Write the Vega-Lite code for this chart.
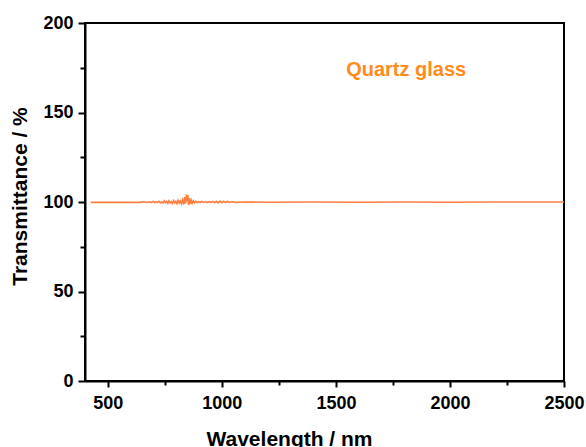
{
  "$schema": "https://vega.github.io/schema/vega-lite/v6.json",
  "width": 479,
  "height": 358,
  "autosize": {"type": "none"},
  "padding": {"left": 85, "top": 23, "right": 22, "bottom": 66},
  "background": "white",
  "config": {
    "view": {"stroke": "black", "strokeWidth": 2},
    "font": "Liberation Sans"
  },
  "datasets": {
    "spectrum": [
      {"wavelength": 425, "T": 99.8},
      {"wavelength": 500, "T": 99.9},
      {"wavelength": 560, "T": 99.8},
      {"wavelength": 600, "T": 99.9},
      {"wavelength": 640, "T": 99.8},
      {"wavelength": 660, "T": 100.1},
      {"wavelength": 670, "T": 99.7},
      {"wavelength": 680, "T": 100.0},
      {"wavelength": 690, "T": 99.8},
      {"wavelength": 700, "T": 100.3},
      {"wavelength": 705, "T": 99.6},
      {"wavelength": 712, "T": 100.2},
      {"wavelength": 718, "T": 99.7},
      {"wavelength": 725, "T": 100.4},
      {"wavelength": 730, "T": 99.5},
      {"wavelength": 736, "T": 100.1},
      {"wavelength": 742, "T": 99.4},
      {"wavelength": 748, "T": 100.6},
      {"wavelength": 752, "T": 99.6},
      {"wavelength": 758, "T": 100.3},
      {"wavelength": 763, "T": 99.3},
      {"wavelength": 768, "T": 100.7},
      {"wavelength": 773, "T": 99.5},
      {"wavelength": 778, "T": 100.2},
      {"wavelength": 783, "T": 99.2},
      {"wavelength": 788, "T": 100.8},
      {"wavelength": 793, "T": 99.6},
      {"wavelength": 798, "T": 100.4},
      {"wavelength": 803, "T": 99.1},
      {"wavelength": 808, "T": 100.9},
      {"wavelength": 813, "T": 99.4},
      {"wavelength": 818, "T": 100.6},
      {"wavelength": 823, "T": 99.0},
      {"wavelength": 828, "T": 101.2},
      {"wavelength": 833, "T": 98.6},
      {"wavelength": 837, "T": 102.8},
      {"wavelength": 841, "T": 99.2},
      {"wavelength": 845, "T": 104.2},
      {"wavelength": 848, "T": 100.5},
      {"wavelength": 851, "T": 103.8},
      {"wavelength": 854, "T": 98.3},
      {"wavelength": 858, "T": 102.2},
      {"wavelength": 862, "T": 98.9},
      {"wavelength": 866, "T": 101.0},
      {"wavelength": 870, "T": 99.3},
      {"wavelength": 875, "T": 100.7},
      {"wavelength": 880, "T": 99.5},
      {"wavelength": 886, "T": 100.4},
      {"wavelength": 892, "T": 99.6},
      {"wavelength": 898, "T": 100.2},
      {"wavelength": 905, "T": 99.7},
      {"wavelength": 912, "T": 100.3},
      {"wavelength": 920, "T": 99.8},
      {"wavelength": 928, "T": 100.1},
      {"wavelength": 936, "T": 99.7},
      {"wavelength": 944, "T": 100.2},
      {"wavelength": 952, "T": 99.8},
      {"wavelength": 960, "T": 100.3},
      {"wavelength": 968, "T": 99.6},
      {"wavelength": 976, "T": 100.4},
      {"wavelength": 984, "T": 99.5},
      {"wavelength": 992, "T": 100.5},
      {"wavelength": 1000, "T": 99.6},
      {"wavelength": 1008, "T": 100.4},
      {"wavelength": 1016, "T": 99.7},
      {"wavelength": 1024, "T": 100.3},
      {"wavelength": 1032, "T": 99.8},
      {"wavelength": 1045, "T": 100.1},
      {"wavelength": 1060, "T": 99.8},
      {"wavelength": 1100, "T": 100.0},
      {"wavelength": 1200, "T": 99.9},
      {"wavelength": 1400, "T": 100.0},
      {"wavelength": 1600, "T": 99.9},
      {"wavelength": 1800, "T": 100.0},
      {"wavelength": 2000, "T": 99.9},
      {"wavelength": 2200, "T": 100.0},
      {"wavelength": 2500, "T": 100.0}
    ],
    "label": [{"wavelength": 1808, "T": 174, "text": "Quartz glass"}]
  },
  "layer": [
    {
      "data": {"name": "spectrum"},
      "mark": {"type": "line", "color": "#FF7F3F", "strokeWidth": 1.6, "clip": true},
      "encoding": {
        "x": {
          "field": "wavelength", "type": "quantitative",
          "scale": {"domain": [400, 2500], "nice": false, "zero": false},
          "axis": {
            "values": [500, 750, 1000, 1250, 1500, 1750, 2000, 2250, 2500],
            "labelExpr": "datum.value % 500 === 0 ? datum.label : ''",
            "format": "d",
            "grid": false,
            "domainColor": "black", "domainWidth": 2,
            "tickColor": "black", "tickWidth": 2,
            "tickSize": {"condition": {"test": "datum.value % 500 === 0", "value": 6}, "value": 4},
            "labelFontSize": 18, "labelFontWeight": "bold", "labelColor": "black",
            "labelPadding": 7, "labelFlush": false, "labelOverlap": false,
            "title": "Wavelength / nm",
            "titleFontSize": 21, "titleFontWeight": "bold", "titleColor": "black",
            "titleX": 204, "titleY": 64, "titleAlign": "center", "titleBaseline": "alphabetic"
          }
        },
        "y": {
          "field": "T", "type": "quantitative",
          "scale": {"domain": [0, 200], "nice": false},
          "axis": {
            "values": [0, 25, 50, 75, 100, 125, 150, 175, 200],
            "labelExpr": "datum.value % 50 === 0 ? datum.label : ''",
            "grid": false,
            "domainColor": "black", "domainWidth": 2,
            "tickColor": "black", "tickWidth": 2,
            "tickSize": {"condition": {"test": "datum.value % 50 === 0", "value": 7}, "value": 5},
            "labelFontSize": 18, "labelFontWeight": "bold", "labelColor": "black",
            "labelPadding": 5, "labelFlush": false, "labelOverlap": false,
            "title": "Transmittance / %",
            "titleFontSize": 21, "titleFontWeight": "bold", "titleColor": "black",
            "titleX": -65, "titleY": 173, "titleAngle": -90, "titleAlign": "center", "titleBaseline": "middle"
          }
        }
      }
    },
    {
      "data": {"name": "label"},
      "mark": {"type": "text", "color": "#FF8C1A", "fontSize": 20, "fontWeight": "bold", "align": "center", "baseline": "middle"},
      "encoding": {
        "x": {"field": "wavelength", "type": "quantitative"},
        "y": {"field": "T", "type": "quantitative"},
        "text": {"field": "text"}
      }
    }
  ]
}
